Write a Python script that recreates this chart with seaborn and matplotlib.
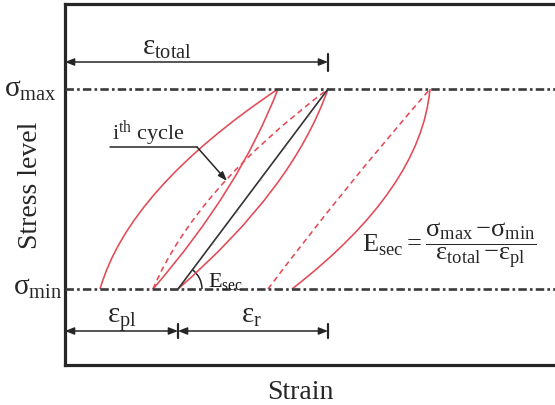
import numpy as np
import matplotlib
matplotlib.use("Agg")
import matplotlib.pyplot as plt
from matplotlib.path import Path
from matplotlib.patches import PathPatch, Arc
import seaborn as sns

# ---------------- data (schematic units) ----------------
sigma_min = 1.0
sigma_max = 3.0
# hysteresis branches: strain at sigma_min end, strain at sigma_max end, curvature (bow)
branch_names = ["first loading", "first unloading", "i-th reloading",
                "i-th unloading", "later reloading", "later unloading"]
strain_at_min = [0.35, 0.88, 0.88, 1.13, 2.03, 2.27]
strain_at_max = [2.13, 2.13, 2.63, 2.63, 3.65, 3.65]
branch_bow = [-0.60, 0.24, -0.45, 0.40, -0.06, 0.60]
eps_pl = strain_at_min[3]
eps_total = strain_at_max[3]

x_label = "Strain"
y_label = "Stress level"

# ---------------- style ----------------
sns.set_theme(style="white")
plt.rcParams["font.family"] = ["Liberation Serif", "DejaVu Serif"]
plt.rcParams["mathtext.fontset"] = "custom"
plt.rcParams["mathtext.rm"] = "Liberation Serif"
plt.rcParams["mathtext.it"] = "Liberation Serif"
plt.rcParams["mathtext.bf"] = "Liberation Serif:bold"
plt.rcParams["mathtext.sf"] = "Liberation Serif"

RED = "#e34a55"
DARK = "#262626"

fig = plt.figure(figsize=(5.55, 4.06), dpi=100)
ax = fig.add_axes([65 / 555, 40 / 406, 495 / 555, 361 / 406])
ax.set_xlim(0, 4.95)
ax.set_ylim(0.24, 3.85)
ax.set_xticks([])
ax.set_yticks([])
for s in ["left", "top", "bottom"]:
    ax.spines[s].set_linewidth(2.3)
    ax.spines[s].set_color(DARK)
ax.spines["right"].set_visible(False)

# stress level lines (dash-dot)
for lvl in (sigma_min, sigma_max):
    ax.plot([0, 4.95], [lvl, lvl], color="#3a3a3a", lw=1.9,
            dashes=(3.2, 1.2, 1.0, 1.2), zorder=3)

# hysteresis branches as quadratic curves
branch_dashed = [False, False, True, False, True, False]
for xa, xb, bow, dsh in zip(strain_at_min, strain_at_max, branch_bow, branch_dashed):
    cx = (xa + xb) / 2 + bow
    cy = (sigma_min + sigma_max) / 2
    path = Path([(xa, sigma_min), (cx, cy), (xb, sigma_max)],
                [Path.MOVETO, Path.CURVE3, Path.CURVE3])
    patch = PathPatch(path, fill=False, edgecolor=RED, lw=1.15,
                      linestyle=(0, (3.5, 2.5)) if dsh else "-", zorder=2)
    ax.add_patch(patch)

# secant modulus line
sns.lineplot(x=[eps_pl, eps_total], y=[sigma_min, sigma_max], ax=ax,
             color="#333333", lw=1.2, zorder=2.5)

# angle arc for E_sec
ang = np.degrees(np.arctan2(sigma_max - sigma_min, eps_total - eps_pl))
ax.add_patch(Arc((eps_pl, sigma_min), 0.48, 0.48, theta1=0, theta2=ang,
                 color=DARK, lw=1.1))
ax.text(1.43, 1.03, r"$\mathrm{E}_{\mathrm{sec}}$", fontsize=16, ha="left",
        va="baseline", color="#1a1a1a")

# dimension lines
arrow_kw = dict(arrowstyle="<|-|>,head_length=0.45,head_width=0.18",
                color=DARK, lw=1.1, shrinkA=0, shrinkB=0)
ax.annotate("", xy=(0.0, 3.27), xytext=(eps_total, 3.27), arrowprops=arrow_kw)
ax.annotate("", xy=(0.0, 0.58), xytext=(eps_pl, 0.58), arrowprops=arrow_kw)
ax.annotate("", xy=(eps_pl, 0.58), xytext=(eps_total, 0.58), arrowprops=arrow_kw)
ax.plot([eps_total, eps_total], [3.18, 3.35], color=DARK, lw=1.6)
ax.plot([eps_pl, eps_pl], [0.51, 0.65], color=DARK, lw=1.6)
ax.plot([eps_total, eps_total], [0.51, 0.65], color=DARK, lw=1.6)

ax.text(1.02, 3.35, r"$ε_{\mathrm{total}}$", fontsize=21, ha="center", va="baseline")
ax.text(0.57, 0.67, r"$ε_{\mathrm{pl}}$", fontsize=21, ha="center", va="baseline")
ax.text(1.86, 0.67, r"$ε_{\mathrm{r}}$", fontsize=21, ha="center", va="baseline")

# i-th cycle leader
ax.text(0.47, 2.50, r"$\mathrm{i}^{\mathrm{th}}\ \mathrm{cycle}$", fontsize=16,
        ha="left", va="baseline")
ax.plot([0.45, 1.32], [2.42, 2.42], color=DARK, lw=1.1)
ax.annotate("", xy=(1.62, 2.08), xytext=(1.32, 2.42),
            arrowprops=dict(arrowstyle="-|>,head_length=0.45,head_width=0.16",
                            color=DARK, lw=1.1, shrinkA=0, shrinkB=0))

# formula
ax.text(2.97, 1.38,
        r"$\mathrm{E}_{\mathrm{sec}}=\dfrac{σ_{\mathrm{max}}\,\mathrm{-}σ_{\mathrm{min}}}{ε_{\mathrm{total}}\,\mathrm{-}ε_{\mathrm{pl}}}$",
        fontsize=19, ha="left", va="baseline")

# axis-level labels
ax.text(-0.08, 2.93, r"$σ_{\mathrm{max}}$", fontsize=21, ha="right", va="baseline",
        clip_on=False)
ax.text(-0.03, 0.95, r"$σ_{\mathrm{min}}$", fontsize=21, ha="right", va="baseline",
        clip_on=False)
ax.text(-0.28, 2.05, y_label, fontsize=20, rotation=90, rotation_mode="anchor",
        ha="center", va="baseline", clip_on=False)
ax.text(2.35, -0.09, x_label, fontsize=20, ha="center", va="baseline", clip_on=False)

fig.savefig("out.png", dpi=100)
